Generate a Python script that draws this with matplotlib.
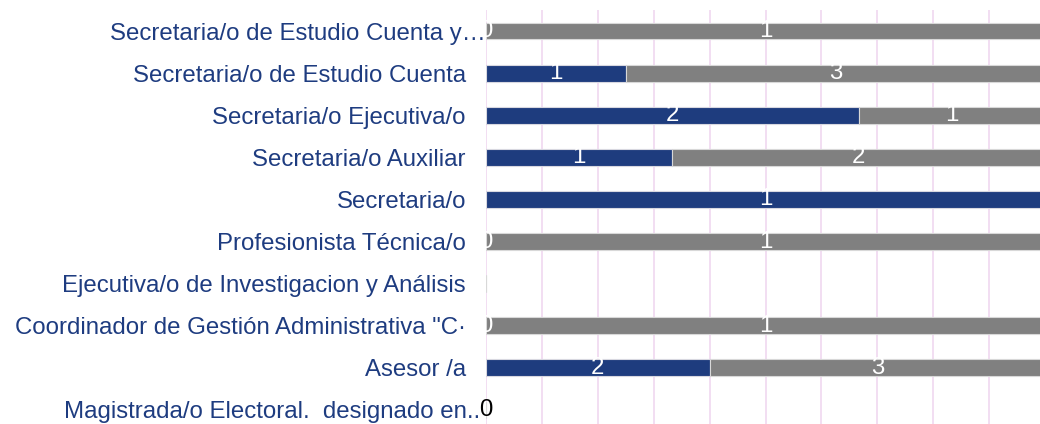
import matplotlib.pyplot as plt
import numpy as np
from matplotlib.transforms import ScaledTranslation

plt.rcParams['font.family'] = ['Liberation Sans', 'DejaVu Sans']

# categories bottom -> top
categorias = ['Magistrada/o Electoral.  designado en..',
              'Asesor /a',
              'Coordinador de Gestión Administrativa "C·',
              'Ejecutiva/o de Investigacion y Análisis',
              'Profesionista Técnica/o',
              'Secretaria/o',
              'Secretaria/o Auxiliar',
              'Secretaria/o Ejecutiva/o',
              'Secretaria/o de Estudio Cuenta',
              'Secretaria/o de Estudio Cuenta y…']
serie_azul = [0, 2, 0, 0, 0, 1, 1, 2, 1, 0]
serie_gris = [0, 3, 1, 0, 1, 0, 2, 1, 3, 1]

azul = '#1E3C7E'
gris = '#808080'
texto = '#1E3C80'
fs = 17.3

fig = plt.figure(figsize=(10.4, 4.24), dpi=100)
ax = fig.add_axes([486 / 1040, 1 - 431 / 424, 559 / 1040, 421 / 424])

a = np.array(serie_azul, dtype=float)
g = np.array(serie_gris, dtype=float)
tot = a + g
pa = np.divide(a, tot, out=np.zeros_like(a), where=tot > 0)
pg = np.divide(g, tot, out=np.zeros_like(g), where=tot > 0)
y = np.arange(len(categorias))

ax.barh(y, pa, height=0.4, color=azul, edgecolor='#d8d8e0', linewidth=0.8, zorder=2)
ax.barh(y, pg, left=pa, height=0.4, color=gris, edgecolor='#d8d8d8', linewidth=0.8, zorder=2)

for i in range(len(categorias)):
    if tot[i] == 0:
        if i == 0:
            ax.text(0, y[i], '0', ha='center', va='center', color='black', fontsize=fs, zorder=3)
        continue
    ax.text(pa[i] / 2, y[i], str(serie_azul[i]), ha='center', va='center',
            color='white', fontsize=fs, zorder=3)
    if serie_gris[i] > 0:
        ax.text(pa[i] + pg[i] / 2, y[i], str(serie_gris[i]), ha='center', va='center',
                color='white', fontsize=fs, zorder=3)

ax.set_xlim(0, 1)
ax.set_ylim(-0.5, len(categorias) - 0.5)
ax.set_xticks(np.arange(0, 1.01, 0.1))
ax.set_xticklabels([])
ax.set_yticks(y)
ax.set_yticklabels(categorias, fontsize=fs, color=texto)
ax.tick_params(length=0, pad=14.4)
ax.grid(axis='x', color='#F0D8F0', linewidth=1.2, zorder=0)
ax.set_axisbelow(True)
for s in ax.spines.values():
    s.set_visible(False)

# truncated labels sit a bit further right
lbls = ax.get_yticklabels()
lbls[-1].set_transform(lbls[-1].get_transform() + ScaledTranslation(0.2, 0, fig.dpi_scale_trans))
lbls[0].set_transform(lbls[0].get_transform() + ScaledTranslation(0.14, 0, fig.dpi_scale_trans))

fig.savefig('out.png', dpi=100)
